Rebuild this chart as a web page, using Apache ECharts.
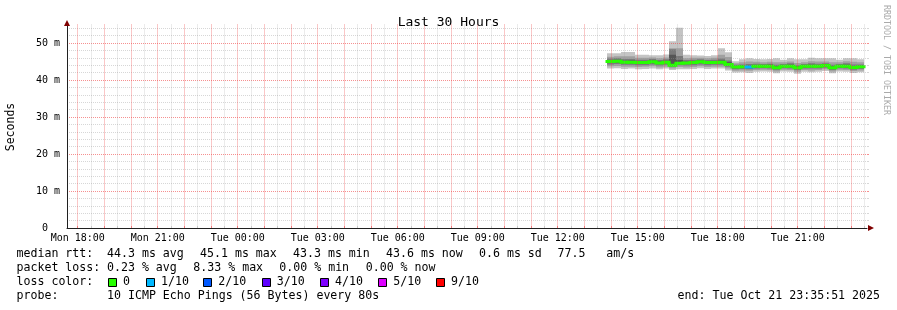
<!DOCTYPE html>
<html><head><meta charset="utf-8">
<script src="https://cdn.jsdelivr.net/npm/echarts@6/dist/echarts.min.js"></script>
<style>html,body{margin:0;padding:0;background:#fff}#c{width:897px;height:310px}</style>
</head><body><div id="c"></div>
<script>
const FONT = '"DejaVu Sans Mono", monospace';

// time axis in hours since Mon 00:00 (start Mon 17:35:51, end Tue 23:35:51)
const timeMin = 17.5975;
const timeMax = 47.5975;
const binStart = [37.85,38.11,38.37,38.63,38.89,39.15,39.41,39.67,39.93,40.19,40.45,40.71,40.97,41.23,41.49,41.75,42.01,42.27,42.53,42.79,43.05,43.31,43.57,43.83,44.09,44.35,44.61,44.87,45.13,45.39,45.65,45.91,46.17,46.43,46.69,46.95,47.21];
const lastEnd = 47.47;

// sorted ping RTTs (ms) per bin, 10 pings
const pings = [
  [43.1,43.7,44.2,44.6,44.9,45.1,45.4,45.8,46.3,47.2],
  [43.2,43.8,44.3,44.7,45.0,45.2,45.5,45.9,46.4,47.2],
  [43.0,43.6,44.1,44.5,44.7,44.9,45.2,45.7,46.4,47.6],
  [43.1,43.6,44.1,44.5,44.7,44.9,45.3,45.7,46.4,47.6],
  [42.9,43.5,44.0,44.4,44.6,44.8,45.1,45.5,46.0,46.8],
  [43.0,43.6,44.0,44.4,44.6,44.8,45.1,45.5,46.0,46.8],
  [43.1,43.7,44.2,44.5,44.8,45.0,45.3,45.7,46.1,46.7],
  [42.9,43.4,43.9,44.3,44.5,44.7,45.0,45.4,45.9,46.7],
  [43.1,43.6,44.1,44.5,44.7,44.9,45.2,45.6,46.1,46.9],
  [42.7,43.1,43.6,43.8,43.9,44.1,46.8,48.3,48.6,50.5],
  [42.9,43.5,44.0,44.3,44.4,44.6,45.4,46.5,48.6,54.1],
  [42.9,43.4,43.9,44.3,44.5,44.7,45.0,45.4,45.9,46.8],
  [43.0,43.5,44.0,44.4,44.6,44.8,45.1,45.5,46.0,46.7],
  [43.2,43.7,44.2,44.6,44.8,45.0,45.3,45.6,46.0,46.6],
  [43.0,43.5,44.0,44.4,44.6,44.8,45.1,45.4,45.9,46.5],
  [43.1,43.6,44.1,44.4,44.6,44.8,45.1,45.5,46.0,46.7],
  [43.1,43.6,44.1,44.5,44.7,44.9,45.3,45.8,46.8,48.6],
  [42.6,43.1,43.6,43.9,44.1,44.3,44.8,45.3,46.2,47.5],
  [42.0,42.5,42.9,43.2,43.4,43.6,43.8,44.1,44.5,45.1],
  [42.1,42.6,43.0,43.3,43.5,43.7,43.9,44.2,44.8,45.6],
  [41.9,42.5,42.9,43.2,43.4,43.6,43.9,44.3,45.0,45.9],
  [42.2,42.7,43.1,43.4,43.6,43.8,44.0,44.4,44.9,45.7],
  [42.3,42.8,43.2,43.4,43.6,43.8,44.0,44.3,44.8,45.6],
  [42.2,42.7,43.1,43.4,43.6,43.8,44.1,44.4,44.9,45.7],
  [41.8,42.3,42.8,43.0,43.2,43.4,43.7,44.1,44.8,45.9],
  [42.3,42.8,43.2,43.4,43.6,43.8,44.0,44.3,44.8,45.5],
  [42.2,42.7,43.1,43.4,43.6,43.8,44.1,44.5,45.0,45.9],
  [41.7,42.2,42.7,43.0,43.2,43.4,43.7,44.0,44.6,45.6],
  [42.2,42.7,43.1,43.4,43.6,43.8,44.0,44.3,44.8,45.6],
  [42.1,42.6,43.1,43.4,43.6,43.8,44.1,44.5,45.1,46.0],
  [42.2,42.7,43.1,43.4,43.6,43.8,44.0,44.4,45.0,45.9],
  [42.4,42.9,43.3,43.6,43.8,44.0,44.2,44.5,45.0,45.9],
  [41.8,42.3,42.7,43.0,43.2,43.4,43.7,44.1,44.8,45.9],
  [42.3,42.8,43.2,43.4,43.6,43.8,44.0,44.3,44.8,45.5],
  [42.2,42.7,43.1,43.4,43.6,43.8,44.1,44.5,45.1,45.9],
  [41.9,42.4,42.8,43.1,43.3,43.5,43.8,44.2,44.9,45.9],
  [42.1,42.6,43.0,43.3,43.5,43.7,43.9,44.2,44.8,45.6]
];
const median = [45.0,45.1,44.8,44.8,44.7,44.7,44.9,44.6,44.8,44.0,44.5,44.6,44.7,44.9,44.7,44.7,44.8,44.2,
  43.5,43.6,43.5,43.7,43.7,43.7,43.3,43.7,43.7,43.3,43.7,43.7,43.7,43.9,43.3,43.7,43.7,43.4,43.6];
const lossCount = [0,0,0,0,0,0,0,0,0,0,0,0,0,0,0,0,0,0,0,0,1,0,0,0,0,0,0,0,0,0,0,0,0,0,0,0,0];

const xTickHours = [18,21,24,27,30,33,36,39,42,45];
const xTickLabels = ['Mon 18:00','Mon 21:00','Tue 00:00','Tue 03:00','Tue 06:00','Tue 09:00','Tue 12:00','Tue 15:00','Tue 18:00','Tue 21:00'];
const yTickValues = [0,10,20,30,40,50];
const yTickLabels = ['0\u00a0\u00a0','10 m','20 m','30 m','40 m','50 m'];
const yMax = 55;

const lossColors = ['#26ff00','#00b8ff','#0059ff','#5e00ff','#7e00ff','#dd00ff','#ff0000'];
const lossLabels = ['0','1/10','2/10','3/10','4/10','5/10','9/10'];
const smokeColors = ['#c4c4c4','#a0a0a0','#7a7a7a','#555555','#323232'];

const rttStats = ['median rtt:','44.3 ms avg','45.1 ms max','43.3 ms min','43.6 ms now','0.6 ms sd','77.5   am/s'];
const lossStats = ['packet loss:','0.23 % avg','8.33 % max','0.00 % min','0.00 % now'];
const probeText = ['probe:','10 ICMP Echo Pings (56 Bytes) every 80s'];
const endText = 'end: Tue Oct 21 23:35:51 2025';

// grid positions (hours)
const hourLines = [], halfLines = [];
for (let h = 18; h <= 47; h++) { hourLines.push(h); if (h + 0.5 < timeMax) halfLines.push(h + 0.5); }
const y10Lines = [10,20,30,40,50], y2Lines = [];
for (let v = 2; v < yMax; v += 2) { if (v % 10 !== 0) y2Lines.push(v); }

const GRAY = 'rgba(150,150,150,0.38)';
const RED = 'rgba(240,70,70,0.6)';

function lossColor(n){ return lossColors[Math.min(n, lossColors.length-1)]; }

const smokeData = binStart.map((t, i) => [t, i+1 < binStart.length ? binStart[i+1] : lastEnd].concat(pings[i]));
const medData = binStart.map((t, i) => [t, i+1 < binStart.length ? binStart[i+1] : lastEnd, median[i], lossCount[i], i>0?median[i-1]:median[i], i>0?lossCount[i-1]:lossCount[i]]);

function gridAxis(vals, color, dim) {
  return {
    type: 'value', min: dim==='x'?timeMin:0, max: dim==='x'?timeMax:yMax, z: 5,
    axisLine: {show:false},
    axisLabel: {show:false},
    axisTick: {show:true, customValues: vals, length: 2, lineStyle:{color: color}},
    splitLine: {show:true, lineStyle:{color: color, width:1, type:[1,1]}}
  };
}

const chart = echarts.init(document.getElementById('c'), null, {renderer:'canvas'});
const graphics = [];
// axis arrows
graphics.push({type:'polygon', shape:{points:[[64,26],[70,26],[67,20]]}, style:{fill:'#800000'}, z:10});
graphics.push({type:'polygon', shape:{points:[[868,225],[868,231],[874,228]]}, style:{fill:'#800000'}, z:10});
graphics.push({type:'text', x:11, y:127, rotation:Math.PI/2, style:{text:'Seconds', font:'11.5px '+FONT, fill:'#000', textAlign:'center', textVerticalAlign:'middle'}});
graphics.push({type:'text', x:886, y:60, rotation:-Math.PI/2, style:{text:'RRDTOOL / TOBI OETIKER', font:'8.3px '+FONT, fill:'#aaaaaa', textAlign:'center', textVerticalAlign:'middle'}});
const LF = '11.6px ' + FONT;
const rttX = [16.5,107,200,293,386,479,557.5];
rttStats.forEach((s,i)=>graphics.push({type:'text', x:rttX[i], y:254, style:{text:s, font:LF, fill:'#000', textVerticalAlign:'middle'}}));
const lossX = [16.5,107,193.3,279.3,365.7];
lossStats.forEach((s,i)=>graphics.push({type:'text', x:lossX[i], y:268, style:{text:s, font:LF, fill:'#000', textVerticalAlign:'middle'}}));
graphics.push({type:'text', x:16.5, y:282, style:{text:'loss color:', font:LF, fill:'#000', textVerticalAlign:'middle'}});
const boxX = [108,146,203.3,261.7,320,378.3,436];
lossLabels.forEach((s,i)=>{
  const bx = Math.round(boxX[i]) + 0.5;
  graphics.push({type:'rect', shape:{x:bx, y:278.5, width:8, height:8}, style:{fill:lossColors[i], stroke:'#000', lineWidth:1}});
  graphics.push({type:'text', x:boxX[i]+15, y:282, style:{text:s, font:LF, fill:'#000', textVerticalAlign:'middle'}});
});
graphics.push({type:'text', x:16.5, y:296, style:{text:probeText[0], font:LF, fill:'#000', textVerticalAlign:'middle'}});
graphics.push({type:'text', x:107, y:296, style:{text:probeText[1], font:LF, fill:'#000', textVerticalAlign:'middle'}});
graphics.push({type:'text', x:880, y:296, style:{text:endText, font:LF, fill:'#000', textAlign:'right', textVerticalAlign:'middle'}});

chart.setOption({
  animation: false,
  backgroundColor: '#ffffff',
  title: {text:'Last 30 Hours', left:'center', top:11, textStyle:{fontFamily:FONT, fontSize:13, fontWeight:'normal', color:'#000'}},
  grid: {left:67, right:30, top:24.5, bottom:82},
  xAxis: [
    {type:'value', min:timeMin, max:timeMax, z:6,
     axisLine:{show:true, lineStyle:{color:'#202020', width:1}},
     axisTick:{show:false, customValues: xTickHours},
     splitLine:{show:false},
     axisLabel:{show:true, customValues: xTickHours, margin:5, fontFamily:FONT, fontSize:10, color:'#000',
       formatter: v => xTickLabels[xTickHours.indexOf(Math.round(v))] || ''}},
    gridAxis(halfLines, GRAY, 'x'),
    gridAxis(hourLines, RED, 'x')
  ],
  yAxis: [
    {type:'value', min:0, max:yMax, z:6,
     axisLine:{show:true, lineStyle:{color:'#202020', width:1}},
     axisTick:{show:false, customValues: yTickValues},
     splitLine:{show:false},
     axisLabel:{show:true, customValues: yTickValues, margin:7, fontFamily:FONT, fontSize:10, color:'#000',
       formatter: v => yTickLabels[yTickValues.indexOf(Math.round(v))] || ''}},
    gridAxis(y2Lines, GRAY, 'y'),
    gridAxis(y10Lines, RED, 'y')
  ],
  series: [
    {type:'custom', z:1, clip:true, data: smokeData,
     encode:{x:[0,1], y:[2,3,4,5,6,7,8,9,10,11]},
     renderItem(params, api){
       const t0 = api.value(0), t1 = api.value(1);
       const children = [];
       for (let j=0;j<5;j++){
         const a = api.coord([t0, api.value(2+j)]);
         const b = api.coord([t1, api.value(11-j)]);
         const x0 = Math.round(a[0]), x1 = Math.round(b[0]);
         children.push({type:'rect', shape:{x:x0, y:b[1], width:x1-x0, height:a[1]-b[1]}, style:{fill:smokeColors[j]}});
       }
       return {type:'group', children};
     }},
    {type:'custom', z:2, clip:true, data: medData,
     encode:{x:[0,1], y:[2]},
     renderItem(params, api){
       const t0 = api.value(0), t1 = api.value(1);
       const m = api.value(2), loss = api.value(3), pm = api.value(4);
       const a = api.coord([t0, m]), b = api.coord([t1, m]), p = api.coord([t0, pm]);
       const x0 = Math.round(a[0]), x1 = Math.round(b[0]);
       const col = lossColor(loss);
       return {type:'group', children:[
         {type:'line', shape:{x1:x0, y1:p[1], x2:x0, y2:a[1]}, style:{stroke:col, lineWidth:3}},
         {type:'line', shape:{x1:x0-1.5, y1:a[1], x2:x1+1.5, y2:a[1]}, style:{stroke:col, lineWidth:3}}
       ]};
     }}
  ],
  graphic: graphics
});
</script></body></html>
